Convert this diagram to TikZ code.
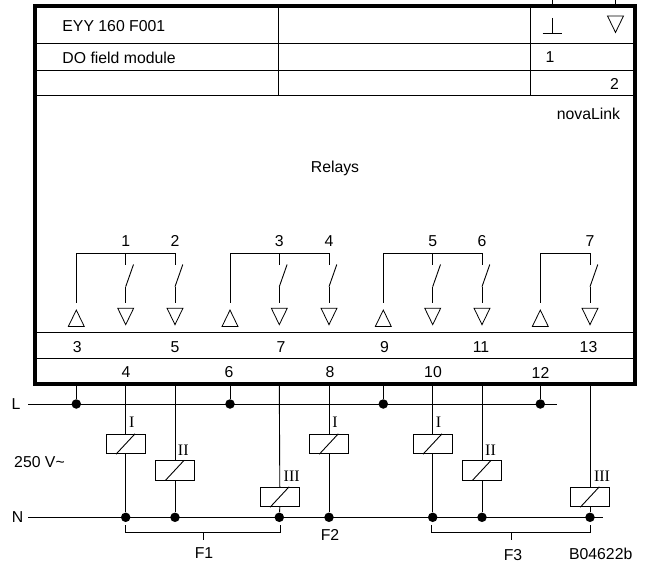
\documentclass[tikz,border=0pt]{standalone}
\usepackage{fontspec}
\setmainfont{Liberation Sans}
\newfontfamily\coilfont{Liberation Serif}
\usetikzlibrary{shapes.geometric}
\tikzstyle{txt} = [inner sep=0pt, font=\fontsize{15.8}{18}\selectfont]
\tikzstyle{coiltxt} = [inner sep=0pt, font=\fontsize{16}{18}\selectfont\coilfont]
\tikzstyle{dot} = [circle, minimum width=9.5pt, fill, inner sep=0pt]
\tikzstyle{coil} = [draw, minimum width=38.5pt, minimum height=19.5pt, inner sep=0pt, fill=white]
\tikzstyle{tri} = [draw, isosceles triangle, isosceles triangle stretches, minimum width=16pt, minimum height=16.5pt, inner sep=0pt, line width=0.8pt]
\tikzstyle{wire} = [line width=0.9pt]

\begin{document}
\begin{tikzpicture}[x=1pt, y=-1pt, wire]
\useasboundingbox (0,0) rectangle (645,564);

% header and terminal rows
\coordinate (tl) at (35,6);
\coordinate (br) at (635,384);
\draw (35,43.5) -- (635,43.5);
\draw (35,70) -- (635,70);
\draw (35,95.5) -- (635,95.5);
\draw (278,6) -- (278,95.5);
\draw (530,6) -- (530,95.5);
\draw (35,332.3) -- (635,332.3);
\draw (35,358.3) -- (635,358.3);

\node[txt, anchor=west] (type) at (62,26.5) {EYY 160 F001};
\node[txt, anchor=west] (name) at (62,57.5) {DO field module};
\node[txt] (one) at (550,57.5) {1};
\node[txt] (two) at (614.5,83.5) {2};
\node[txt, anchor=east] (nova) at (620.5,113.5) {novaLink};
\node[txt] (relays) at (335,168) {Relays};

% earth symbol and output symbol
\coordinate (earth) at (552,18);
\coordinate (earthb) at (552,33.5);
\draw (earth) -- (earthb);
\draw (542.5,33.5) -- (561.5,33.5);
\node[tri, shape border rotate=-90, anchor=apex] (tritop) at (615.5,33.5) {};
\coordinate (stuba) at (552,0);
\coordinate (stubb) at (615.5,0);
\draw (stuba) -- (552,6);
\draw (stubb) -- (615.5,6);

% relay contacts
\foreach \n/\x/\lab in {a/125.7/1, b/175/2, c/279.3/3, d/329/4, e/432.7/5, f/482/6, g/590/7}{
    \coordinate (top\n) at (\x,253.3);
    \coordinate (fix\n) at (\x,264.5);
    \coordinate (hinge\n) at (\x,286.7);
    \coordinate (open\n) at (\x+7.8,264.5);
    \coordinate (end\n) at (\x,302.7);
    \coordinate (frame\n) at (\x,384);
    \draw (top\n) -- (fix\n);
    \draw (hinge\n) -- (open\n);
    \draw (hinge\n) -- (end\n);
    \node[tri, shape border rotate=-90, anchor=apex] (tri\n) at (\x,325.7) {};
    \node[txt] (lab\n) at (\x,241.3) {\lab};
    \node[dot] (N\n) at (\x,517.3) {};
}

% common contacts
\foreach \n/\x/\last in {a/76.3/b, b/230/d, c/383.3/f, d/540.3/g}{
    \coordinate (com\n) at (\x,253.3);
    \coordinate (comend\n) at (\x,302.7);
    \coordinate (cframe\n) at (\x,384);
    \draw (comend\n) -- (com\n) -- (top\last);
    \node[tri, shape border rotate=90, anchor=apex] (up\n) at (\x,309) {};
    \node[dot] (L\n) at (\x,404) {};
    \draw (cframe\n) -- (L\n);
}

% terminal numbers
\node[txt] (t3) at (77.3,346.7) {3};
\node[txt] (t5) at (175,346.7) {5};
\node[txt] (t7) at (281,346.7) {7};
\node[txt] (t9) at (384.5,346.7) {9};
\node[txt] (t11) at (481,346.7) {11};
\node[txt] (t13) at (588.5,346.7) {13};
\node[txt] (t4) at (126,372) {4};
\node[txt] (t6) at (229,372.5) {6};
\node[txt] (t8) at (330,372) {8};
\node[txt] (t10) at (433,372) {10};
\node[txt] (t12) at (540.5,372.5) {12};

% supply
\node[txt] (Llab) at (16,404) {L};
\node[txt] (Nlab) at (17.5,517.3) {N};
\coordinate (Lstart) at (28,404);
\coordinate (Nstart) at (28,517.3);
\coordinate (Lend) at (556.7,404);
\coordinate (Nend) at (602.7,517.3);
\draw (Lstart) -- (Lend);
\draw (Nstart) -- (Nend);
\node[txt] (volt) at (39.5,462.5) {250 V\symbol{126}};

% coils
\node[coil] (ca) at (125.7,444) {};
\node[coil] (cb) at (175,470.3) {};
\node[coil] (cc) at (279.8,497) {};
\node[coil] (cd) at (329,444) {};
\node[coil] (ce) at (432.7,444) {};
\node[coil] (cf) at (482,470.3) {};
\node[coil] (cg) at (590,497) {};
\foreach \n in {a,b,c,d,e,f,g}{
    \draw (frame\n) -- (c\n.north);
    \draw (c\n.south) -- (N\n);
    \draw ([xshift=-9.7pt]c\n.south) -- ([xshift=9.3pt]c\n.north);
}
\node[coiltxt] (ia) at (131.7,422.7) {I};
\node[coiltxt] (ib) at (183.3,450) {II};
\node[coiltxt] (ic) at (291.7,476) {III};
\node[coiltxt] (id) at (335,422.7) {I};
\node[coiltxt] (ie) at (438.5,422.7) {I};
\node[coiltxt] (if) at (490.5,450) {II};
\node[coiltxt] (ig) at (602,476) {III};

% fuses
\coordinate (fa) at (125.7,525);
\coordinate (fb) at (125.7,532.7);
\coordinate (fc) at (280.7,532.7);
\coordinate (fd) at (280.7,525);
\coordinate (fe) at (203,532.7);
\coordinate (ff) at (203,540);
\draw (fa) -- (fb) -- (fc) -- (fd);
\draw (fe) -- (ff);
\coordinate (ga) at (431,525);
\coordinate (gb) at (431,532.7);
\coordinate (gc) at (590.3,532.7);
\coordinate (gd) at (590.3,525);
\coordinate (ge) at (511,532.7);
\coordinate (gf) at (511,540);
\draw (ga) -- (gb) -- (gc) -- (gd);
\draw (ge) -- (gf);
\node[txt] (F1) at (204,553.5) {F1};
\node[txt] (F2) at (330,534.7) {F2};
\node[txt] (F3) at (513,555) {F3};
\node[txt] (code) at (600.7,553.5) {B04622b};

\draw[line width=3.5pt] (tl) rectangle (br);
\end{tikzpicture}
\end{document}
